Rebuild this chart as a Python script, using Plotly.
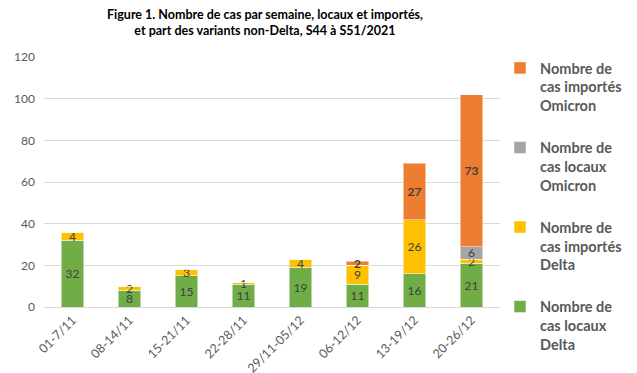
import plotly.graph_objects as go

categories = ["01-7/11", "08-14/11", "15-21/11", "22-28/11", "29/11-05/12", "06-12/12", "13-19/12", "20-26/12"]
local_delta = [32, 8, 15, 11, 19, 11, 16, 21]
imported_delta = [4, 2, 3, 1, 4, 9, 26, 2]
local_omicron = [0, 0, 0, 0, 0, 0, 0, 6]
imported_omicron = [0, 0, 0, 0, 0, 2, 27, 73]

series = [
    ("<b>Nombre de<br>cas locaux<br>Delta</b>", local_delta, "#70AD47", False),
    ("<b>Nombre de<br>cas importés<br>Delta</b>", imported_delta, "#FFC000", False),
    ("<b>Nombre de<br>cas locaux<br>Omicron</b>", local_omicron, "#A5A5A5", False),
    ("<b>Nombre de<br>cas importés<br>Omicron</b>", imported_omicron, "#ED7D31", True),
]

fig = go.Figure()
for i, (name, vals, color, bold) in enumerate(series):
    texts = [("" if v == 0 else (f"<b>{v}</b>" if bold else str(v))) for v in vals]
    fig.add_trace(go.Bar(
        x=categories, y=vals, name=name, text=texts,
        textposition="inside", insidetextanchor="middle", textangle=0,
        textfont=dict(color="#404040", size=12, family="Lato"),
        marker=dict(color=color, line=dict(color="rgba(255,255,255,0.5)", width=1)),
        width=0.39, legendgroup=f"g{i}", legendrank=len(series) - i,
        hoverinfo="skip",
    ))

fig.update_layout(
    barmode="stack",
    width=637, height=373,
    margin=dict(l=44, r=137, t=57, b=66, autoexpand=False),
    paper_bgcolor="white", plot_bgcolor="white",
    font=dict(family="Lato", color="#595959"),
    uniformtext=dict(minsize=12, mode="show"),
    title=dict(
        text="<b>Figure 1. Nombre de cas par semaine, locaux et importés,<br>et part des variants non-Delta, S44 à S51/2021</b>",
        x=265 / 637, xref="container", xanchor="center",
        y=1 - 19 / 373, yref="container", yanchor="top",
        font=dict(size=12.5, color="#000000", family="Lato"),
    ),
    legend=dict(
        traceorder="grouped",
        x=500 / 637, xref="container", xanchor="left",
        y=1 - 52 / 373, yref="container", yanchor="top",
        font=dict(size=14.5, color="#595959", family="Lato"),
        tracegroupgap=20, valign="top",
        itemwidth=30, maxheight=320,
    ),
    showlegend=True,
)
fig.update_xaxes(
    tickangle=-45, tickfont=dict(size=12.5, color="#595959"),
    showline=True, linecolor="#d9d9d9", linewidth=1,
    ticks="", automargin=False,
)
fig.update_yaxes(
    range=[0, 120], dtick=20, tickfont=dict(size=12, color="#595959"),
    showgrid=True, gridcolor="#d9d9d9", zeroline=False, ticks="",
    automargin=False, ticklabelstandoff=8,
)

fig.write_html("out.html", config={"displayModeBar": False},
               post_script="document.body.style.margin='0';")
